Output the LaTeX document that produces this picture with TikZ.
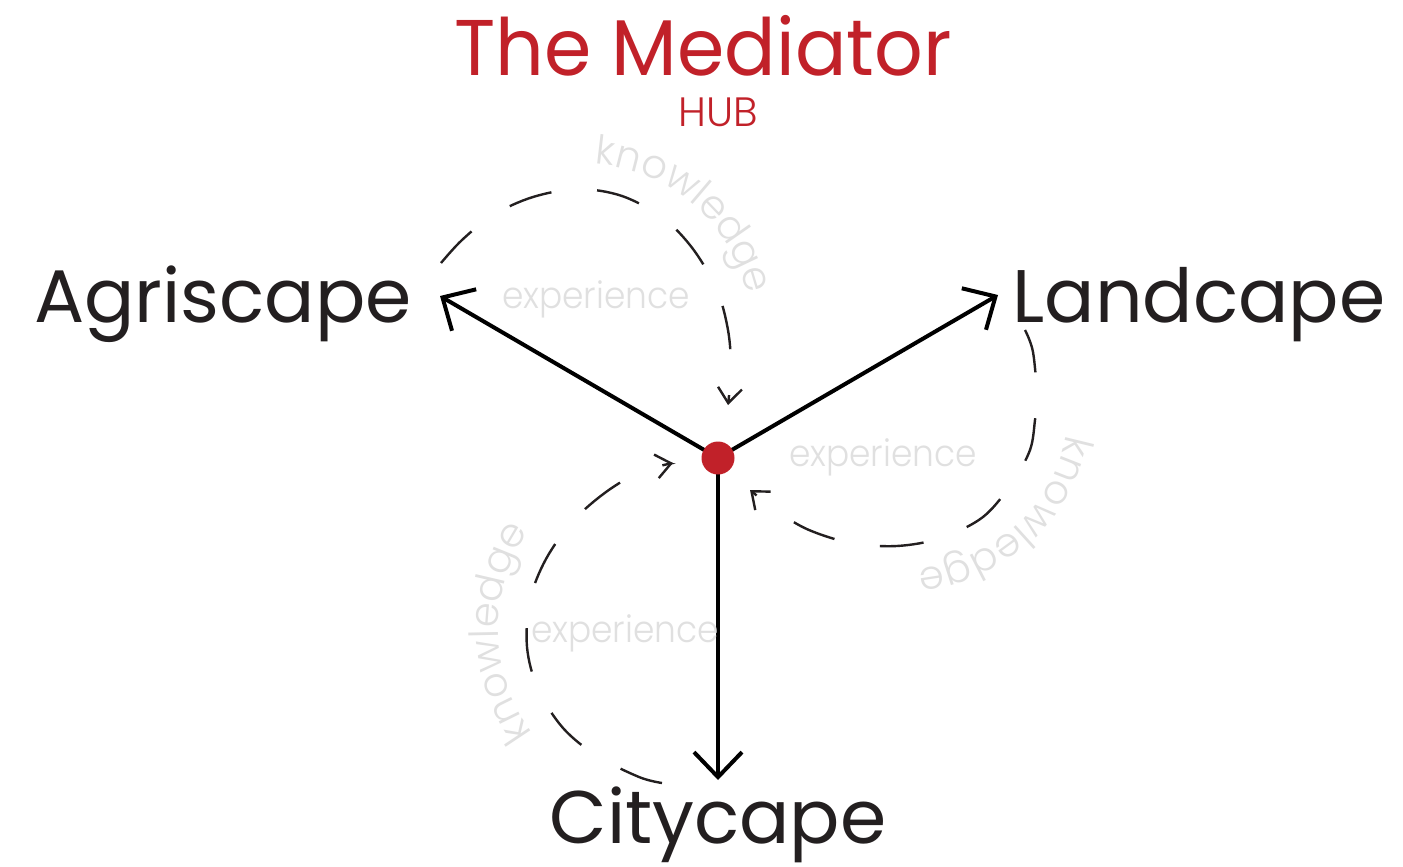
\documentclass[tikz,border=0pt]{standalone}
\usepackage{fontspec}
\setmainfont{Poppins}
\newfontfamily\lightfont{Poppins Light}
\usetikzlibrary{arrows.meta,decorations.text}
\definecolor{hubred}{RGB}{193,33,41}
\definecolor{ink}{RGB}{35,31,32}
\definecolor{faint}{RGB}{224,224,224}
\begin{document}
\begin{tikzpicture}[x=1pt,y=-1pt,
  spoke/.style={line width=4pt, draw=black, -{Straight Barb[length=25pt,width=48pt]}},
  loopline/.style={line width=2.4pt, draw=ink, dash pattern=on 44pt off 46pt, -{Straight Barb[length=15pt,width=24pt]}},
  place/.style={anchor=base, text=ink, font=\fontsize{74.5}{80}\selectfont},
  faintword/.style={anchor=base, text=faint, font=\lightfont\fontsize{37}{40}\selectfont},
  curvedword/.style={decorate, decoration={text along path, text align=center, text color=faint,
     text={|\lightfont\fontsize{40}{44}\selectfont|knowledge}}}]
\fill[white] (0,0) rectangle (1403,867);
\useasboundingbox (0,0) rectangle (1403,867);

% title
\node[anchor=base, text=hubred, font=\fontsize{79}{84}\selectfont] (title) at (703,76) {\scalebox{0.965}[1]{The Mediator}};
\node[anchor=base, text=hubred, font=\lightfont\fontsize{41}{44}\selectfont] (hubword) at (718,126) {HUB};

% places
\node[place] (agri) at (223,322) {Agriscape};
\node[place] (land) at (1199,322) {Landcape};
\node[place] (city) at (718,843) {Citycape};

% hub and spoke ends
\coordinate (hubc) at (718,458);
\coordinate (agriEnd) at (440,296);
\coordinate (landEnd) at (998,295);
\coordinate (cityEnd) at (718,780);

\draw[spoke] (hubc) -- (agriEnd);
\draw[spoke] (hubc) -- (landEnd);
\draw[spoke] (hubc) -- (cityEnd);
\node[circle, fill=hubred, inner sep=0pt, minimum size=33pt] (hub) at (hubc) {};

% feedback loops
\draw[loopline] plot[smooth, tension=0.55] coordinates {(441,263) (462,240) (493,215) (533,197) (578,189) (622,196) (663,218) (693,249) (717,290) (728,330) (731,368) (728,405)};
\draw[loopline] plot[smooth, tension=0.55] coordinates {(1025,330) (1033,352) (1037,397) (1035,420) (1030,450) (1012,483) (983,517) (941,538) (897,546) (851,543) (809,530) (778,512) (750,490)};
\draw[loopline] plot[smooth, tension=0.55] coordinates {(662,783) (639,777) (597,756) (563,728) (538,689) (527,647) (530,600) (546,559) (573,521) (606,492) (640,472) (673,463)};

% labels of loops
\node[faintword] (exp1) at (596,308) {\scalebox{0.93}[1]{experience}};
\node[faintword] (exp2) at (883,466) {\scalebox{0.93}[1]{experience}};
\node[faintword] (exp3) at (625,642) {\scalebox{0.93}[1]{experience}};

\path[curvedword] (585,330) ++(-100:166) arc[start angle=-100, end angle=1, radius=166];
\path[curvedword] (905,405) ++(0:164) arc[start angle=0, end angle=96, radius=164];
\path[curvedword] (670,630) ++(131:172) arc[start angle=131, end angle=227, radius=172];
\end{tikzpicture}
\end{document}
